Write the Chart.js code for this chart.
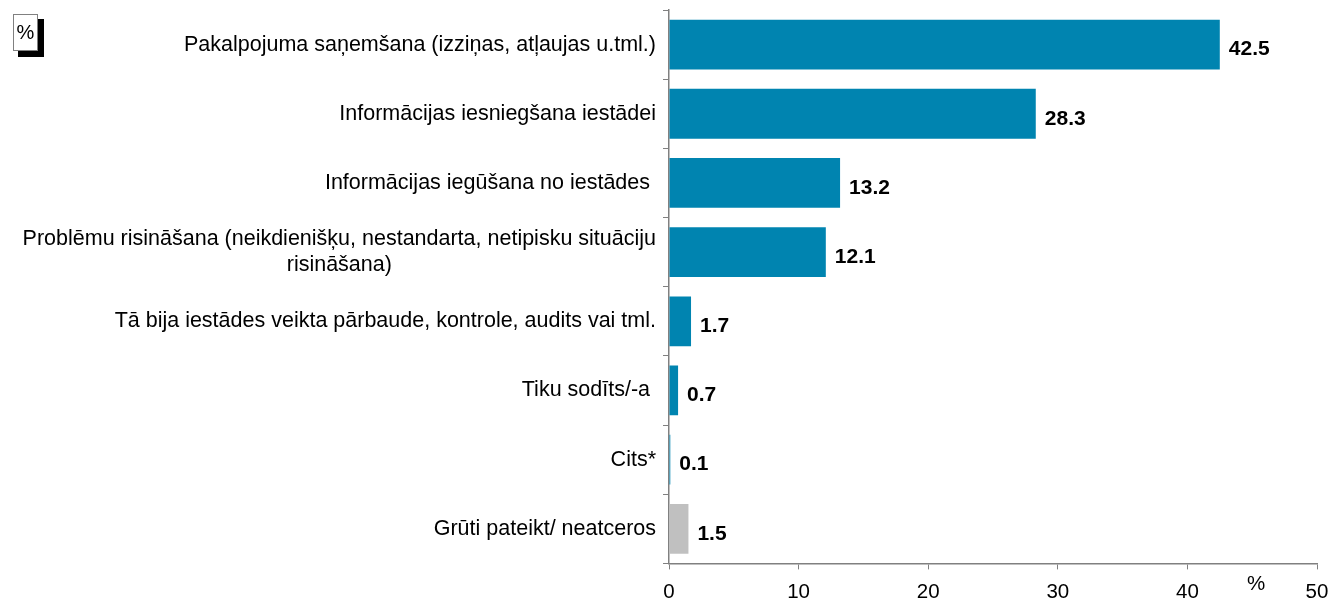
<!DOCTYPE html>
<html>
<head>
<meta charset="utf-8">
<script src="https://cdn.jsdelivr.net/npm/chart.js@4"></script>
<style>
  body { margin: 0; background: #fff; }
  #wrap { width: 1333px; height: 601px; }
</style>
</head>
<body>
<div id="wrap"><canvas id="chart" width="1333" height="601"></canvas></div>
<script>
const labels = [
  ['Pakalpojuma saņemšana (izziņas, atļaujas u.tml.)'],
  ['Informācijas iesniegšana iestādei'],
  ['Informācijas iegūšana no iestādes '],
  ['Problēmu risināšana (neikdienišķu, nestandarta, netipisku situāciju', 'risināšana)'],
  ['Tā bija iestādes veikta pārbaude, kontrole, audits vai tml.'],
  ['Tiku sodīts/-a '],
  ['Cits*'],
  ['Grūti pateikt/ neatceros']
];
const values = [42.5, 28.3, 13.2, 12.1, 1.7, 0.7, 0.1, 1.5];
const barColors = ['#0084B0', '#0084B0', '#0084B0', '#0084B0', '#0084B0', '#0084B0', '#0084B0', '#C0C0C0'];
const xTicks = [0, 10, 20, 30, 40, 50];

const FONT = 'Liberation Sans, Arial, sans-serif';

const extras = {
  id: 'extras',
  afterDraw(chart) {
    const ctx = chart.ctx;
    const y = chart.scales.y;
    const x = chart.scales.x;
    ctx.save();
    // category labels, lines centred within the block, block right aligned
    ctx.font = '21.5px ' + FONT;
    ctx.fillStyle = '#000';
    ctx.textBaseline = 'middle';
    ctx.textAlign = 'center';
    const right = chart.chartArea.left - 13;
    labels.forEach((lines, i) => {
      const cy = y.getPixelForValue(i);
      const w = Math.max(...lines.map(l => ctx.measureText(l).width));
      const lh = 26;
      lines.forEach((l, k) => {
        ctx.fillText(l, right - w / 2, cy + (k - (lines.length - 1) / 2) * lh);
      });
    });
    // value labels
    ctx.font = 'bold 21px ' + FONT;
    ctx.textAlign = 'left';
    values.forEach((v, i) => {
      ctx.fillText(v.toFixed(1), x.getPixelForValue(v) + 9, y.getPixelForValue(i) + 5);
    });
    // % unit on x axis
    ctx.font = '20.5px ' + FONT;
    ctx.textAlign = 'center';
    ctx.fillText('%', 1256, 584);
    // % box top-left
    ctx.fillStyle = '#000';
    ctx.fillRect(18, 19, 26, 38);
    ctx.fillStyle = '#fff';
    ctx.fillRect(13, 14, 25, 37);
    ctx.strokeStyle = '#808080';
    ctx.lineWidth = 1;
    ctx.strokeRect(13.5, 14.5, 24, 36);
    ctx.fillStyle = '#000';
    ctx.font = '20px ' + FONT;
    ctx.fillText('%', 25.5, 33);
    ctx.restore();
  }
};

new Chart(document.getElementById('chart'), {
  type: 'bar',
  data: {
    labels: labels,
    datasets: [{
      data: values,
      backgroundColor: barColors,
      borderWidth: 0,
      barPercentage: 0.72,
      categoryPercentage: 1
    }]
  },
  options: {
    indexAxis: 'y',
    responsive: false,
    animation: false,
    layout: { padding: { top: 10, right: 0, bottom: -15, left: 0 } },
    plugins: {
      legend: { display: false },
      tooltip: { enabled: false }
    },
    scales: {
      x: {
        min: 0,
        max: 50,
        afterBuildTicks: (axis) => { axis.ticks = xTicks.map(v => ({ value: v })); },
        afterFit: (axis) => { axis.paddingRight = 16; },
        border: { color: '#808080', width: 1.5 },
        grid: { drawOnChartArea: false, tickLength: 6, color: '#808080' },
        ticks: { color: '#000', font: { family: FONT, size: 20.5 }, padding: 11 }
      },
      y: {
        afterFit: (axis) => { axis.width = 669; },
        border: { color: '#808080', width: 1.5 },
        grid: { drawOnChartArea: false, tickLength: 6, color: '#808080', offset: true },
        ticks: { display: false }
      }
    }
  },
  plugins: [extras]
});
</script>
</body>
</html>
